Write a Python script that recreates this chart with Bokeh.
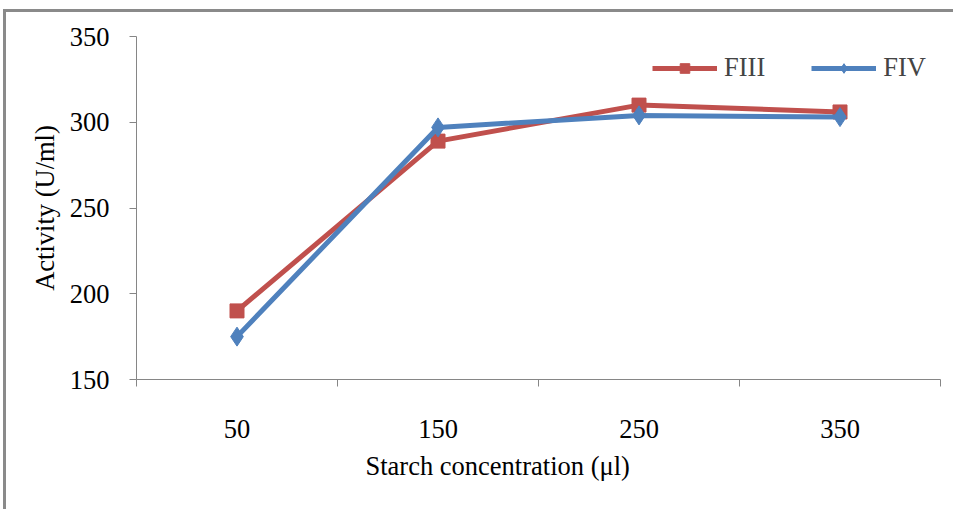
from bokeh.plotting import figure
from bokeh.models import FixedTicker, Legend, LegendItem, Range1d, Title
from bokeh.embed import file_html
from bokeh.resources import INLINE

categories = ["50", "150", "250", "350"]
fiii = [190, 289, 310, 306]
fiv = [175, 297, 304, 303]
y_ticks = [150, 200, 250, 300, 350]
x_title = "Starch concentration (μl)"
y_title = "Activity (U/ml)"

xs = [i + 0.5 for i in range(len(categories))]
FONT = "Liberation Serif"
FS = "26.5px"
AX = "#868686"

p = figure(width=950, height=500, output_backend="svg", toolbar_location=None,
           x_range=Range1d(0, len(categories)), y_range=Range1d(150, 350),
           min_border_left=130, min_border_right=16, min_border_top=24, min_border_bottom=133)
p.styles = {"margin-left": "3px", "margin-top": "9px",
            "border-left": "3px solid #8a8a8a", "border-top": "3px solid #8a8a8a"}
p.outline_line_color = None
p.grid.visible = False
p.background_fill_color = "white"
p.border_fill_color = "white"

r1l = p.line(xs, fiii, line_color="#C0504D", line_width=5)
r1m = p.scatter(xs, fiii, marker="square", size=14, fill_color="#C0504D", line_color="#C0504D")
r2l = p.line(xs, fiv, line_color="#4F81BD", line_width=5)
r2m = p.scatter(xs, fiv, marker="diamond", size=19, fill_color="#4F81BD", line_color="#4F81BD")

xa = p.xaxis[0]
xa.ticker = FixedTicker(ticks=xs, minor_ticks=list(range(len(categories) + 1)))
xa.major_label_overrides = {x: c for x, c in zip(xs, categories)}
xa.major_tick_out = 0
xa.major_tick_in = 0
xa.minor_tick_out = 7
xa.minor_tick_in = 0
xa.minor_tick_line_color = AX
xa.axis_line_color = AX
xa.major_label_standoff = 33

ya = p.yaxis[0]
ya.ticker = FixedTicker(ticks=y_ticks, minor_ticks=[])
ya.major_tick_out = 7
ya.major_tick_in = 0
ya.major_tick_line_color = AX
ya.axis_line_color = AX
ya.major_label_standoff = 20
ya.axis_label = y_title
ya.axis_label_standoff = 7
ya.axis_label_text_font = FONT
ya.axis_label_text_font_size = FS
ya.axis_label_text_font_style = "normal"
ya.axis_label_text_color = "black"

for ax in (xa, ya):
    ax.major_label_text_font = FONT
    ax.major_label_text_font_size = FS
    ax.major_label_text_color = "black"

p.add_layout(Title(text=x_title, align="left", offset=229, standoff=17,
                   text_font=FONT, text_font_size=FS, text_font_style="normal",
                   text_color="black"), "below")

legend = Legend(items=[LegendItem(label="FIII", renderers=[r1l, r1m]),
                       LegendItem(label="FIV", renderers=[r2l, r2m])],
                orientation="horizontal", location=(516, 296),
                glyph_width=65, glyph_height=24, label_standoff=7, spacing=46,
                padding=0, margin=0, border_line_color=None, background_fill_alpha=0,
                label_text_font=FONT, label_text_font_size=FS)
p.add_layout(legend)

open("out.html", "w").write(file_html(p, INLINE))
